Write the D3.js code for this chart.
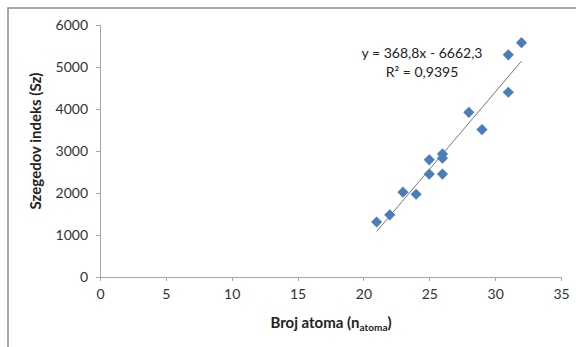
<!DOCTYPE html>
<html><head><meta charset="utf-8">
<script src="https://cdn.jsdelivr.net/npm/d3@7"></script>
<style>body{margin:0;background:#fff}svg{display:block}text{font-family:Lato,"Open Sans",sans-serif}</style>
</head><body><svg id="c" width="576" height="347"></svg>
<script>
const xs = [21,22,23,24,25,25,26,26,26,28,29,31,31,32];
const ys = [1310,1480,2020,1970,2790,2450,2930,2830,2450,3920,3510,4400,5290,5580];
const xTicks = [0,5,10,15,20,25,30,35];
const yTicks = [0,1000,2000,3000,4000,5000,6000];
const slope = 368.8, intercept = -6662.3;
const eqText = "y = 368,8x - 6662,3";
const r2Text = "R² = 0,9395";

const svg = d3.select("#c");
svg.append("rect").attr("x",8).attr("y",8).attr("width",600).attr("height",400)
  .attr("fill","none").attr("stroke","#8c8c8c").attr("stroke-width",1.5);

const x = d3.scaleLinear().domain([0,35]).range([100,561]);
const y = d3.scaleLinear().domain([0,6000]).range([277,25]);

const ya = svg.append("g").attr("transform","translate(100,0)")
  .call(d3.axisLeft(y).tickValues(yTicks).tickSize(4).tickPadding(8).tickFormat(d3.format("d")));
const xa = svg.append("g").attr("transform","translate(0,277)")
  .call(d3.axisBottom(x).tickValues(xTicks).tickSize(4).tickPadding(8));
[ya,xa].forEach(g=>{
  g.selectAll("path,line").attr("stroke","#a6a6a6").attr("shape-rendering","crispEdges");
  g.selectAll("text").attr("font-size",14).attr("fill","#333").attr("font-family","Lato,'Open Sans',sans-serif");
});

// trend line
svg.append("line").attr("x1",x(21)).attr("y1",y(slope*21+intercept))
  .attr("x2",x(32)).attr("y2",y(slope*32+intercept))
  .attr("stroke","#777").attr("stroke-width",1);

const sym = d3.symbol().type(d3.symbolSquare).size(62);
svg.append("g").selectAll("path").data(xs.map((v,i)=>[v,ys[i]])).join("path")
  .attr("d",sym).attr("fill","#4a7ebb")
  .attr("transform",d=>`translate(${x(d[0])},${y(d[1])}) rotate(45)`);

svg.append("text").attr("x",422).attr("y",58).attr("text-anchor","middle")
  .attr("font-size",14).attr("fill","#222").text(eqText);
svg.append("text").attr("x",422).attr("y",77).attr("text-anchor","middle")
  .attr("font-size",14).attr("fill","#222").text(r2Text);

svg.append("text").attr("transform","translate(41,141) rotate(-90)").attr("text-anchor","middle")
  .attr("font-size",15).attr("font-weight","bold").attr("fill","#222").text("Szegedov indeks (Sz)");

const xt = svg.append("text").attr("x",331).attr("y",328).attr("text-anchor","middle")
  .attr("font-size",15).attr("font-weight","bold").attr("fill","#222");
xt.append("tspan").text("Broj atoma (n");
xt.append("tspan").attr("font-size",10).attr("dy",3).text("atoma");
xt.append("tspan").attr("dy",-3).text(")");
</script></body></html>
